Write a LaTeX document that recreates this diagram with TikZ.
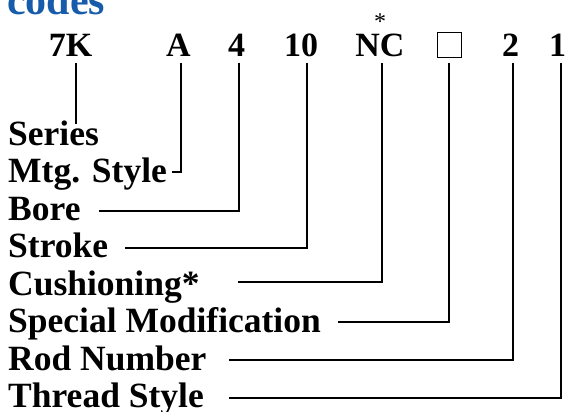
\documentclass[tikz,border=0pt]{standalone}
\usepackage{fontspec}
\setmainfont{Liberation Serif}
\definecolor{headblue}{RGB}{22,92,170}
\begin{document}
\begin{tikzpicture}[x=1pt,y=-1pt,
  lbl/.style={anchor=base west,inner sep=0pt,font=\fontsize{35.5}{35.5}\selectfont\bfseries},
  code/.style={anchor=base,inner sep=0pt,font=\fontsize{34}{34}\selectfont\bfseries},
  wire/.style={line width=2.2pt}]
\useasboundingbox (0,0) rectangle (565,412);
\clip (0,0) rectangle (565,412);
% heading
\node[anchor=base west,inner sep=0pt,text=headblue,font=\fontsize{42}{42}\selectfont\bfseries] (head) at (7,15) {codes};
% code row
\node[code] (c1) at (70.5,57) {7K};
\node[code] (c2) at (178.5,57) {A};
\node[code] (c3) at (236.5,57) {4};
\node[code] (c4) at (301,57) {10};
\node[code] (c5) at (380,57) {NC};
\node[draw,line width=1pt,minimum width=24pt,minimum height=25pt,inner sep=0pt] (c6) at (449,45.5) {};
\node[code] (c7) at (510.5,57) {2};
\node[code] (c8) at (557.5,57) {1};
\node[anchor=base,inner sep=0pt,text depth=0pt,font=\fontsize{24}{24}\selectfont] (star) at (380,30) {*};
% labels
\node[lbl] (l1) at (8,145) {Series};
\node[lbl] (l2) at (8,182) {Mtg. Style};
\node[lbl] (l3) at (8,220) {Bore};
\node[lbl] (l4) at (8,257) {Stroke};
\node[lbl] (l5) at (8,295) {Cushioning*};
\node[lbl] (l6) at (8,332) {Special Modification};
\node[lbl] (l7) at (8,370) {Rod Number};
\node[lbl] (l8) at (8,407) {Thread Style};
% line ends under codes
\coordinate (t1) at (76,63);
\coordinate (t2) at (181,63);
\coordinate (t3) at (239,63);
\coordinate (t4) at (307,63);
\coordinate (t5) at (382,63);
\coordinate (t6) at (449,63);
\coordinate (t7) at (513,63);
\coordinate (t8) at (561,63);
% line ends at labels
\coordinate (e1) at (76,124);
\coordinate (e2) at (172,172);
\coordinate (e3) at (99,211);
\coordinate (e4) at (125,248);
\coordinate (e5) at (238,282);
\coordinate (e6) at (338,322);
\coordinate (e7) at (229,360);
\coordinate (e8) at (229,398);
\draw[wire] (t1) -- (e1);
\draw[wire] (t2) |- (e2);
\draw[wire] (t3) |- (e3);
\draw[wire] (t4) |- (e4);
\draw[wire] (t5) |- (e5);
\draw[wire] (t6) |- (e6);
\draw[wire] (t7) |- (e7);
\draw[wire] (t8) |- (e8);
\end{tikzpicture}
\end{document}
